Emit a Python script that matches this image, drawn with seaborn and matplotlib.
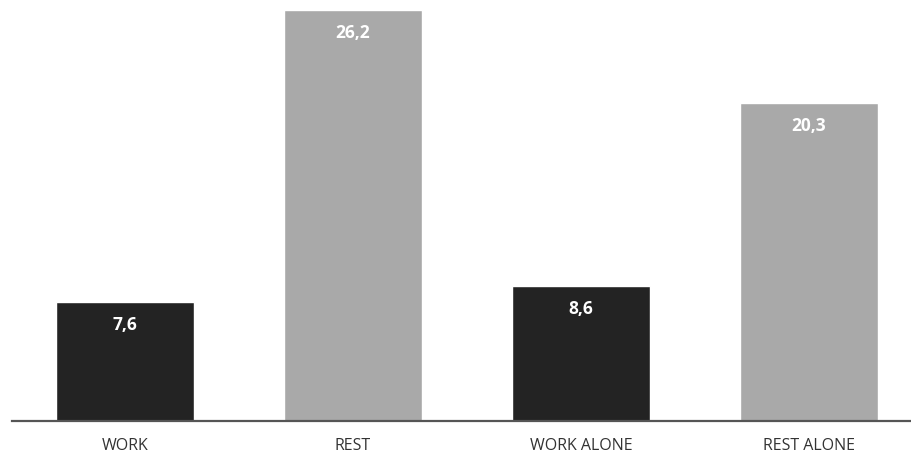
import matplotlib
matplotlib.use("Agg")
import matplotlib.pyplot as plt
import seaborn as sns
import pandas as pd

categories = ["WORK", "REST", "WORK ALONE", "REST ALONE"]
values = [7.6, 26.2, 8.6, 20.3]
value_labels = ["7,6", "26,2", "8,6", "20,3"]
bar_colors = ["#232323", "#a9a9a9", "#232323", "#a9a9a9"]

sns.set_style("white")
plt.rcParams["font.family"] = ["Open Sans", "DejaVu Sans"]

df = pd.DataFrame({"category": categories, "value": values})

fig = plt.figure(figsize=(9.12, 4.55), dpi=100)
ax = fig.add_axes([12 / 912, 34 / 455, 900 / 912, 421 / 455])

sns.barplot(data=df, x="category", y="value", hue="category",
            palette=dict(zip(categories, bar_colors)), legend=False,
            width=0.605, saturation=1, ax=ax)

for i, (v, lab) in enumerate(zip(values, value_labels)):
    ax.annotate(lab, xy=(i, v), xytext=(0, -16.5), textcoords="offset points",
                ha="center", va="center", color="white", fontsize=12.5,
                fontweight="bold")

ax.set_xlim(-0.496, 3.452)
ax.set_ylim(0, 26.84)
ax.set_xlabel("")
ax.set_ylabel("")
ax.set_yticks([])
for side in ["left", "right", "top"]:
    ax.spines[side].set_visible(False)
ax.spines["bottom"].set_color("#555555")
ax.spines["bottom"].set_linewidth(1.6)
ax.tick_params(axis="x", length=0, pad=12, labelsize=11.5, labelcolor="#333333")

fig.savefig("out.png", dpi=100)
